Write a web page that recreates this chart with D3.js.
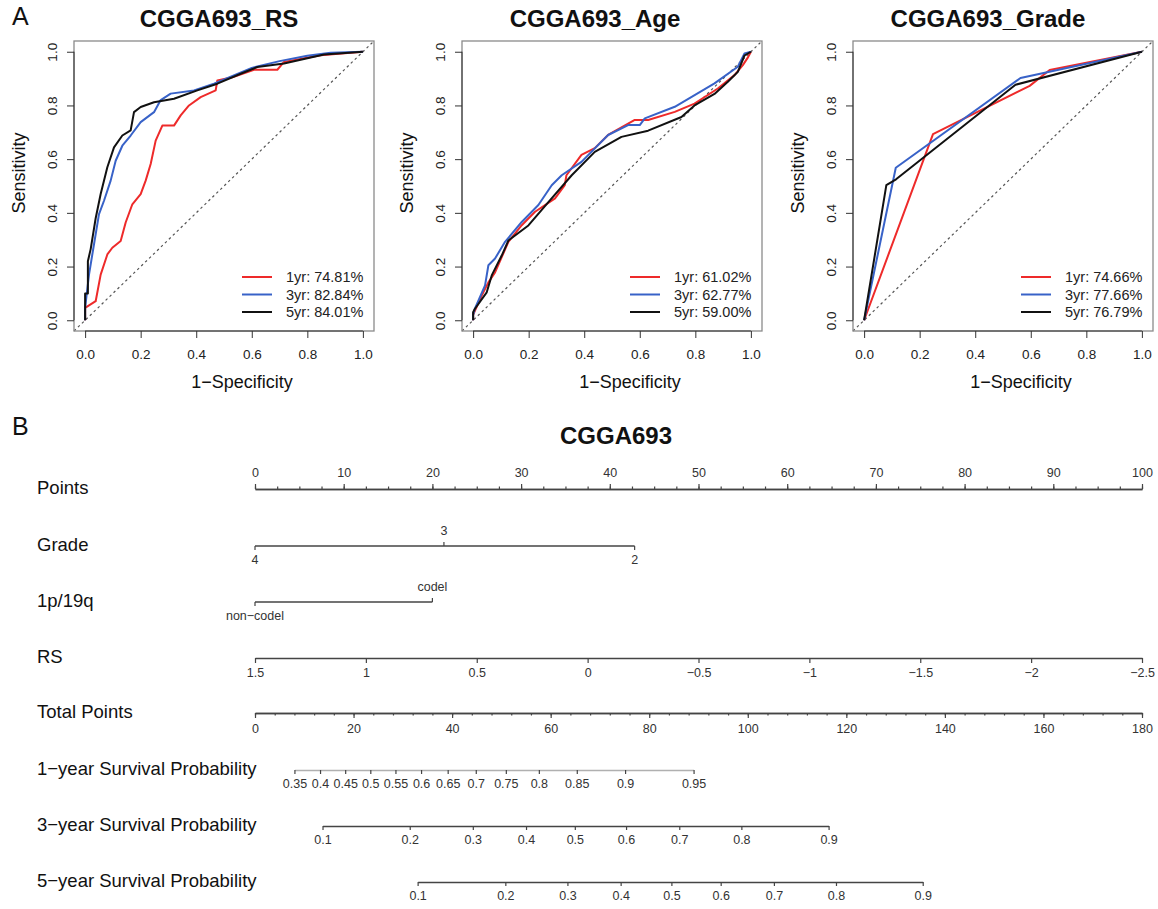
<!DOCTYPE html>
<html>
<head>
<meta charset="utf-8">
<script src="https://cdn.jsdelivr.net/npm/d3@7"></script>
<style>
  body { margin: 0; background: #fff; }
  svg { display: block; font-family: "Liberation Sans", Arial, sans-serif; }
</style>
</head>
<body>
<div id="chart"></div>
<script>
// ---- ROC data (1-specificity, sensitivity) ----
const years = ['1yr', '3yr', '5yr'];
const rocTicks = [0, 0.2, 0.4, 0.6, 0.8, 1.0];

const rsAuc = ['74.81%', '82.84%', '84.01%'];
const rs1yr = [[0,0],[0,0.046],[0.038,0.071],[0.056,0.17],[0.08,0.245],[0.098,0.27],[0.128,0.295],[0.146,0.364],[0.17,0.432],[0.2,0.47],[0.218,0.52],[0.236,0.582],[0.254,0.669],[0.278,0.725],[0.32,0.725],[0.344,0.763],[0.374,0.8],[0.416,0.831],[0.47,0.856],[0.476,0.893],[0.53,0.905],[0.608,0.933],[0.692,0.933],[0.716,0.962],[0.848,0.987],[0.956,0.996],[1,1]];
const rs3yr = [[0,0],[0,0.046],[0.014,0.17],[0.032,0.283],[0.05,0.395],[0.068,0.445],[0.092,0.52],[0.11,0.594],[0.134,0.65],[0.164,0.688],[0.2,0.738],[0.248,0.775],[0.272,0.82],[0.308,0.844],[0.392,0.856],[0.464,0.881],[0.6,0.94],[0.7,0.965],[0.8,0.985],[0.884,0.996],[1,1]];
const rs5yr = [[0,0],[0,0.1],[0.01,0.1],[0.01,0.22],[0.02,0.265],[0.038,0.38],[0.056,0.47],[0.08,0.57],[0.104,0.644],[0.134,0.688],[0.164,0.707],[0.176,0.775],[0.2,0.794],[0.248,0.812],[0.32,0.825],[0.404,0.856],[0.476,0.881],[0.56,0.918],[0.62,0.943],[0.716,0.956],[0.86,0.99],[1,1]];

const ageAuc = ['61.02%', '62.77%', '59.00%'];
const age1yr = [[0,0],[0,0.02],[0.031,0.092],[0.055,0.141],[0.079,0.178],[0.127,0.292],[0.175,0.354],[0.223,0.404],[0.295,0.454],[0.33,0.503],[0.336,0.54],[0.39,0.616],[0.438,0.641],[0.486,0.69],[0.582,0.746],[0.63,0.746],[0.726,0.776],[0.797,0.807],[0.881,0.863],[0.941,0.913],[0.971,0.95],[0.99,0.98],[1,1]];
const age3yr = [[0,0],[0,0.02],[0.006,0.042],[0.043,0.13],[0.055,0.205],[0.079,0.23],[0.115,0.292],[0.175,0.366],[0.235,0.429],[0.283,0.503],[0.319,0.54],[0.39,0.59],[0.486,0.69],[0.558,0.727],[0.6,0.727],[0.618,0.752],[0.726,0.795],[0.869,0.882],[0.953,0.944],[0.977,0.994],[1,1]];
const age5yr = [[0,0],[0,0.03],[0.006,0.042],[0.049,0.104],[0.067,0.167],[0.103,0.241],[0.127,0.297],[0.199,0.353],[0.271,0.44],[0.355,0.54],[0.438,0.627],[0.534,0.683],[0.63,0.706],[0.75,0.757],[0.797,0.8],[0.869,0.843],[0.917,0.888],[0.953,0.925],[0.977,0.986],[1,1]];

const gradeAuc = ['74.66%', '77.66%', '76.79%'];
const grade1yr = [[0,0],[0.248,0.693],[0.596,0.873],[0.668,0.932],[1,1]];
const grade3yr = [[0,0],[0.114,0.568],[0.563,0.902],[1,1]];
const grade5yr = [[0,0],[0.08,0.503],[0.115,0.525],[0.545,0.877],[1,1]];

// ---- Nomogram data ----
const rowNames = ['Points', 'Grade', '1p/19q', 'RS', 'Total Points',
  '1\u2212year Survival Probability', '3\u2212year Survival Probability', '5\u2212year Survival Probability'];
const pointsTicks = [0, 10, 20, 30, 40, 50, 60, 70, 80, 90, 100];
const gradeLevels = ['4', '3', '2'];
const gradePoints = [0, 21.3, 42.8];
const codelLevels = ['non\u2212codel', 'codel'];
const codelPoints = [0, 20];
const rsTicks = [1.5, 1, 0.5, 0, -0.5, -1, -1.5, -2, -2.5];
const totalTicks = [0, 20, 40, 60, 80, 100, 120, 140, 160, 180];
const surv1Ticks = [0.35, 0.4, 0.45, 0.5, 0.55, 0.6, 0.65, 0.7, 0.75, 0.8, 0.85, 0.9, 0.95];
const surv1Total = [8.0, 13.2, 18.3, 23.4, 28.5, 33.7, 39.1, 44.8, 50.9, 57.6, 65.3, 75.1, 89.0];
const surv3Ticks = [0.1, 0.2, 0.3, 0.4, 0.5, 0.6, 0.7, 0.8, 0.9];
const surv3Total = [13.7, 31.4, 44.2, 55.0, 64.9, 75.3, 86.1, 98.7, 116.4];
const surv5Ticks = [0.1, 0.2, 0.3, 0.4, 0.5, 0.6, 0.7, 0.8, 0.9];
const surv5Total = [33.0, 50.8, 63.4, 74.2, 84.5, 94.5, 105.3, 117.9, 135.5];

const W = 1158, H = 909;
const colors = ['#ee2a2a', '#3862c8', '#111111'];
const minus = d => d < 0 ? '\u2212' + Math.abs(d) : String(d);

const svg = d3.select('#chart').append('svg')
  .attr('width', W).attr('height', H)
  .attr('viewBox', `0 0 ${W} ${H}`);

svg.append('rect').attr('width', W).attr('height', H).attr('fill', '#fff');

// ---------------- Panel A: ROC curves ----------------
svg.append('text').attr('x', 12).attr('y', 25)
  .attr('font-size', 25).attr('fill', '#111').text('A');

function rocPanel(left, title, titleX, curves, aucs) {
  const top = 41, w = 300, h = 290;
  const x = d3.scaleLinear().domain([-0.04, 1.04]).range([left, left + w]);
  const y = d3.scaleLinear().domain([-0.04, 1.04]).range([top + h, top]);
  const g = svg.append('g');

  // title
  g.append('text').attr('x', titleX).attr('y', 27)
    .attr('text-anchor', 'middle').attr('font-size', 24).attr('font-weight', 'bold')
    .attr('fill', '#111').text(title);

  // reference diagonal
  g.append('line')
    .attr('x1', x(-0.04)).attr('y1', y(-0.04))
    .attr('x2', x(1.04)).attr('y2', y(1.04))
    .attr('stroke', '#555').attr('stroke-width', 1.2)
    .attr('stroke-dasharray', '2.5,3');

  // curves
  const line = d3.line().x(d => x(d[0])).y(d => y(d[1]));
  curves.forEach((c, i) => {
    g.append('path').datum(c)
      .attr('d', line)
      .attr('fill', 'none')
      .attr('stroke', colors[i])
      .attr('stroke-width', 2)
      .attr('stroke-linejoin', 'round');
  });

  // box
  g.append('rect').attr('x', left).attr('y', top).attr('width', w).attr('height', h)
    .attr('fill', 'none').attr('stroke', '#8a8a8a').attr('stroke-width', 1.3);

  // x axis
  const xa = g.append('g').attr('transform', `translate(0,${top + h})`)
    .call(d3.axisBottom(x).tickValues(rocTicks).tickFormat(d3.format('.1f'))
      .tickSize(7).tickPadding(11).tickSizeOuter(0));
  xa.select('.domain').attr('d', `M${x(0)},0H${x(1)}`).attr('stroke', '#333');

  // y axis
  const ya = g.append('g').attr('transform', `translate(${left},0)`)
    .call(d3.axisLeft(y).tickValues(rocTicks).tickFormat(d3.format('.1f'))
      .tickSize(7).tickSizeOuter(0));
  ya.select('.domain').attr('d', `M0,${y(0)}V${y(1)}`).attr('stroke', '#333');
  ya.selectAll('.tick text')
    .attr('transform', 'rotate(-90)')
    .attr('x', 0).attr('y', -17).attr('dy', null)
    .attr('text-anchor', 'middle');

  g.selectAll('.tick line').attr('stroke', '#333');
  g.selectAll('.tick text').attr('font-size', 13.5).attr('fill', '#222')
    .attr('font-family', '"Liberation Sans", Arial, sans-serif');

  // axis titles
  g.append('text').attr('x', left + 168).attr('y', 388)
    .attr('text-anchor', 'middle').attr('font-size', 18).attr('fill', '#111')
    .text('1\u2212Specificity');
  g.append('text')
    .attr('transform', `translate(${left - 49},173) rotate(-90)`)
    .attr('text-anchor', 'middle').attr('font-size', 18).attr('fill', '#111')
    .text('Sensitivity');

  // legend
  years.forEach((yr, i) => {
    const ly = 277 + 17.5 * i;
    g.append('line').attr('x1', left + 168).attr('x2', left + 198)
      .attr('y1', ly).attr('y2', ly)
      .attr('stroke', colors[i]).attr('stroke-width', 2);
    g.append('text').attr('x', left + 212).attr('y', ly + 5)
      .attr('font-size', 14.5).attr('fill', '#222')
      .text(`${yr}: ${aucs[i]}`);
  });
}

rocPanel(74, 'CGGA693_RS', 219, [rs1yr, rs3yr, rs5yr], rsAuc);
rocPanel(462, 'CGGA693_Age', 595, [age1yr, age3yr, age5yr], ageAuc);
rocPanel(853, 'CGGA693_Grade', 988, [grade1yr, grade3yr, grade5yr], gradeAuc);

// ---------------- Panel B: nomogram ----------------
svg.append('text').attr('x', 12).attr('y', 435)
  .attr('font-size', 25).attr('fill', '#111').text('B');
svg.append('text').attr('x', 616).attr('y', 444)
  .attr('text-anchor', 'middle').attr('font-size', 24).attr('font-weight', 'bold')
  .attr('fill', '#111').text('CGGA693');

const x0 = 255, x1 = 1142;
const rowY = [489, 546, 602, 658, 713, 770, 826, 882];
const pts = d3.scaleLinear().domain([0, 100]).range([x0, x1]);
const total = d3.scaleLinear().domain([0, 180]).range([x0, x1]);
const lineCol = '#444', fs = 12.5;

rowNames.forEach((n, i) => {
  svg.append('text').attr('x', 37).attr('y', rowY[i] + 5)
    .attr('font-size', 18.5).attr('fill', '#111').text(n);
});

function styleAxis(ax, domainCol) {
  ax.select('.domain').attr('stroke', domainCol || lineCol).attr('stroke-width', 1.5);
  ax.selectAll('.tick line').attr('stroke', lineCol).attr('stroke-width', 1.2);
  ax.selectAll('.tick text').attr('font-size', fs).attr('fill', '#333')
    .attr('font-family', '"Liberation Sans", Arial, sans-serif');
}

// Points
const pMinor = svg.append('g').attr('transform', `translate(0,${rowY[0]})`)
  .call(d3.axisTop(pts).tickValues(d3.range(0, 100.1, 2.5)).tickSize(2.5).tickFormat('').tickSizeOuter(0));
styleAxis(pMinor);
const pAx = svg.append('g').attr('transform', `translate(0,${rowY[0]})`)
  .call(d3.axisTop(pts).tickValues(pointsTicks).tickSize(5).tickPadding(7).tickSizeOuter(0));
styleAxis(pAx);

// categorical rows (Grade, 1p/19q)
function catRow(yLine, levels, points) {
  const g = svg.append('g');
  const xs = points.map(p => pts(p));
  g.append('line').attr('x1', d3.min(xs)).attr('x2', d3.max(xs))
    .attr('y1', yLine).attr('y2', yLine)
    .attr('stroke', lineCol).attr('stroke-width', 1.5);
  levels.forEach((lv, i) => {
    const up = i % 2 === 1;
    g.append('line').attr('x1', xs[i]).attr('x2', xs[i])
      .attr('y1', yLine).attr('y2', yLine + (up ? -4 : 4))
      .attr('stroke', lineCol).attr('stroke-width', 1.2);
    g.append('text').attr('x', xs[i]).attr('y', yLine + (up ? -11 : 18))
      .attr('text-anchor', 'middle').attr('font-size', fs).attr('fill', '#333')
      .text(lv);
  });
}
catRow(rowY[1], gradeLevels, gradePoints);
catRow(rowY[2], codelLevels, codelPoints);

// RS
const rsScale = d3.scaleLinear().domain([1.5, -2.5]).range([pts(0), pts(100)]);
const rsAx = svg.append('g').attr('transform', `translate(0,${rowY[3]})`)
  .call(d3.axisBottom(rsScale).tickValues(rsTicks).tickFormat(minus)
    .tickSize(5).tickPadding(5.5).tickSizeOuter(0));
styleAxis(rsAx);

// Total Points
const tMinor = svg.append('g').attr('transform', `translate(0,${rowY[4]})`)
  .call(d3.axisBottom(total).tickValues(d3.range(0, 180.1, 4)).tickSize(2.5).tickFormat('').tickSizeOuter(0));
styleAxis(tMinor);
const tAx = svg.append('g').attr('transform', `translate(0,${rowY[4]})`)
  .call(d3.axisBottom(total).tickValues(totalTicks).tickSize(5).tickPadding(6).tickSizeOuter(0));
styleAxis(tAx);

// survival probability rows
function survRow(yLine, ticks, totals, domainCol) {
  const s = d3.scaleLinear().domain(ticks).range(totals.map(t => total(t)));
  const ax = svg.append('g').attr('transform', `translate(0,${yLine})`)
    .call(d3.axisBottom(s).tickValues(ticks).tickFormat(d => String(d))
      .tickSize(4).tickPadding(5.5).tickSizeOuter(0));
  styleAxis(ax, domainCol);
}
survRow(rowY[5], surv1Ticks, surv1Total, '#b0b0b0');
survRow(rowY[6], surv3Ticks, surv3Total);
survRow(rowY[7], surv5Ticks, surv5Total);
</script>
</body>
</html>
